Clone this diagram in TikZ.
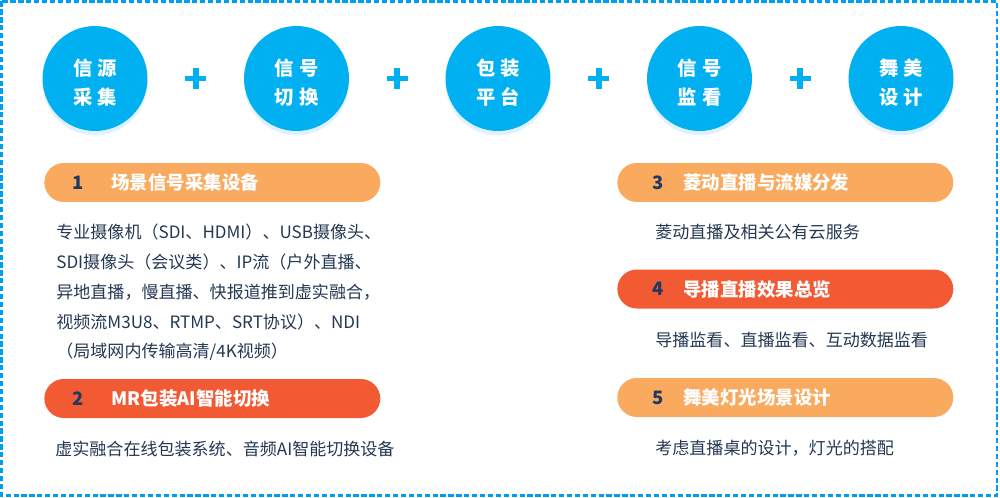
\documentclass[tikz,border=0pt]{standalone}
\usepackage{fontspec}
\setmainfont{Noto Sans CJK SC}
\usetikzlibrary{calc,shadows}
\definecolor{skyblue}{HTML}{00B0F0}
\definecolor{lightorange}{HTML}{F9AA5E}
\definecolor{redorange}{HTML}{F25A34}
\definecolor{navy}{HTML}{1F3864}
\definecolor{bodyink}{HTML}{243852}

\begin{document}
\begin{tikzpicture}[x=0.02cm,y=-0.02cm,
  frame/.style={draw=skyblue!90!blue,line width=1.3pt,dash pattern=on 3pt off 1.5pt},
  circ/.style={circle,fill=skyblue,minimum size=2.1cm,inner sep=0pt,
    drop shadow={shadow xshift=0pt,shadow yshift=-2.5pt,fill=blue!40!cyan!35,opacity=0.35}},
  circtext/.style={align=center,text=white,inner sep=0pt,yshift=-2.3pt,
    font=\fontsize{11}{16.5}\selectfont\bfseries},
  cross/.style={draw=skyblue,line width=3.4pt},
  banner/.style={rounded corners=0.39cm,minimum width=6.72cm,minimum height=0.78cm,inner sep=0pt,anchor=west},
  num/.style={text=navy,font=\fontsize{10.5}{12}\selectfont\bfseries},
  title/.style={text=white,anchor=west,inner sep=0pt,font=\fontsize{10.5}{12}\selectfont\bfseries},
  body/.style={text=bodyink,anchor=north west,inner sep=0pt,align=left,font=\fontsize{9.7}{17}\selectfont},
]
\useasboundingbox (0,0) rectangle (1000,497);
\draw[frame] (1.5,1.5) rectangle (997,495.5);

\node[circ] (c1) at (95,78.5) {};
\node[circ] (c2) at (296.5,78.5) {};
\node[circ] (c3) at (498,78.5) {};
\node[circ] (c4) at (699.5,78.5) {};
\node[circ] (c5) at (901,78.5) {};
\node[circtext] (l1) at (c1) {信\hspace{3pt}源\\采\hspace{3pt}集};
\node[circtext] (l2) at (c2) {信\hspace{3pt}号\\切\hspace{3pt}换};
\node[circtext] (l3) at (c3) {包\hspace{3pt}装\\平\hspace{3pt}台};
\node[circtext] (l4) at (c4) {信\hspace{3pt}号\\监\hspace{3pt}看};
\node[circtext] (l5) at (c5) {舞\hspace{3pt}美\\设\hspace{3pt}计};
\foreach \a/\b in {c1/c2,c2/c3,c3/c4,c4/c5}
  \draw[cross] ($(\a)!0.5!(\b)$) +(-10.5,0) -- +(10.5,0) +(0,-10.5) -- +(0,10.5);

\node[banner,fill=lightorange] (b1) at (44,182.5) {};
\node[num] (n1) at (78,182.5) {1};
\node[title] (t1) at (111,182.5) {场景信号采集设备};
\node[body] (d1) at (56,223.5) {专业摄像机（SDI、HDMI）、USB摄像头、\\
  SDI摄像头（会议类）、IP流（户外直播、\\
  异地直播，慢直播、快报道推到虚实融合，\\
  视频流M3U8、RTMP、SRT协议）、NDI\\
  （局域网内传输高清/4K视频）};

\node[banner,fill=redorange] (b2) at (44,398.5) {};
\node[num] (n2) at (78,398.5) {2};
\node[title] (t2) at (111,398.5) {MR包装AI智能切换};
\node[body] (d2) at (55,440.5) {虚实融合在线包装系统、音频AI智能切换设备};

\node[banner,fill=lightorange] (b3) at (617,182.5) {};
\node[num] (n3) at (658,182.5) {3};
\node[title] (t3) at (683,182.5) {菱动直播与流媒分发};
\node[body] (d3) at (655,223.5) {菱动直播及相关公有云服务};

\node[banner,fill=redorange] (b4) at (617,289) {};
\node[num] (n4) at (658,289) {4};
\node[title] (t4) at (683,289) {导播直播效果总览};
\node[body] (d4) at (655,331.5) {导播监看、直播监看、互动数据监看};

\node[banner,fill=lightorange] (b5) at (617,397.5) {};
\node[num] (n5) at (658,397.5) {5};
\node[title] (t5) at (683,397.5) {舞美灯光场景设计};
\node[body] (d5) at (655,439.5) {考虑直播桌的设计，灯光的搭配};
\end{tikzpicture}
\end{document}
